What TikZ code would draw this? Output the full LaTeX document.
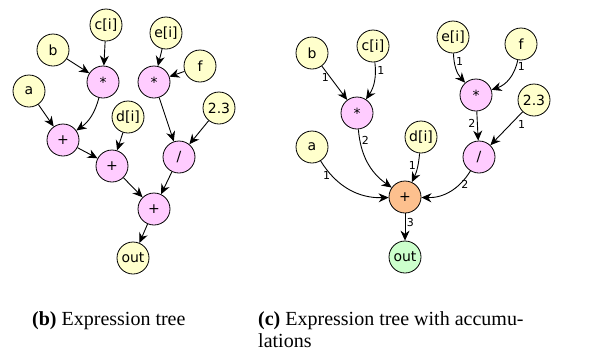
\documentclass[tikz,border=0pt]{standalone}
\usepackage{fontspec}
\setmainfont{Liberation Serif}
\newfontfamily\nodefont{DejaVu Sans}
\usetikzlibrary{arrows.meta}

\definecolor{varyellow}{HTML}{FFFFCC}
\definecolor{oppink}{HTML}{FFCCFF}
\definecolor{accorange}{HTML}{FDC08E}
\definecolor{outgreen}{HTML}{CCFFCC}

\tikzset{
  vnode/.style={circle, draw, line width=0.8pt, minimum size=32pt, inner sep=0pt,
    font=\nodefont\fontsize{14}{14}\selectfont},
  invar/.style={vnode, fill=varyellow},
  opnode/.style={vnode, fill=oppink},
  accnode/.style={vnode, fill=accorange},
  outvar/.style={vnode, fill=outgreen},
  edge/.style={-{Stealth[length=10pt,width=9pt]}, line width=0.9pt},
  wlabel/.style={font=\nodefont\fontsize{11}{11}\selectfont, inner sep=1.5pt}
}

\begin{document}
\begin{tikzpicture}[x=1pt, y=-1pt]
    \useasboundingbox (0,0) rectangle (592,354);

    % (b) expression tree
    \node[invar] (cb) at (106,25) {c[i]};
    \node[invar] (bb) at (53,50) {b};
    \node[invar] (eb) at (166,33) {e[i]};
    \node[invar] (fb) at (200,66) {f};
    \node[opnode] (mula) at (103,82) {*};
    \node[opnode] (mulb) at (154,82) {*};
    \node[invar] (ab) at (29,91) {a};
    \node[invar] (kb) at (219,108) {2.3};
    \node[invar] (db) at (128,117) {d[i]};
    \node[opnode] (adda) at (63,140) {+};
    \node[opnode] (divb) at (179,157) {/};
    \node[opnode] (addb) at (112,166) {+};
    \node[opnode] (addc) at (154,209) {+};
    \node[invar] (outb) at (133,258) {out};

    \draw[edge] (bb) -- (mula);
    \draw[edge] (cb) -- (mula);
    \draw[edge] (ab) -- (adda);
    \draw[edge] (mula) to[bend left=20] (adda);
    \draw[edge] (db) -- (addb);
    \draw[edge] (adda) -- (addb);
    \draw[edge] (eb) -- (mulb);
    \draw[edge] (fb) -- (mulb);
    \draw[edge] (mulb) -- (divb);
    \draw[edge] (kb) -- (divb);
    \draw[edge] (addb) -- (addc);
    \draw[edge] (divb) -- (addc);
    \draw[edge] (addc) -- (outb);

    % (c) expression tree with accumulations
    \node[invar] (bc) at (312,53) {b};
    \node[invar] (cc) at (373,46) {c[i]};
    \node[invar] (ec) at (453,37) {e[i]};
    \node[invar] (fc) at (521,44) {f};
    \node[opnode] (mulc) at (357,113) {*};
    \node[opnode] (muld) at (476,95) {*};
    \node[invar] (kc) at (534,100) {2.3};
    \node[invar] (ac) at (312,147) {a};
    \node[invar] (dc) at (421,137) {d[i]};
    \node[opnode] (divc) at (479,157) {/};
    \node[accnode] (acc) at (405,197) {+};
    \node[outvar] (outc) at (405,257) {out};

    \draw[edge] (bc) -- node[wlabel, pos=0.35, left] {1} (mulc);
    \draw[edge] (cc) to[bend left=20] node[wlabel, pos=0.2, right] {1} (mulc);
    \draw[edge] (mulc) to[bend right=25] node[wlabel, pos=0.15, right] {2} (acc);
    \draw[edge] (ac) to[bend right=30] node[wlabel, pos=0.12, below] {1} (acc);
    \draw[edge] (dc) to[bend left=10] node[wlabel, pos=0.4, left] {1} (acc);
    \draw[edge] (ec) to[bend right=20] node[wlabel, pos=0.25, right] {1} (muld);
    \draw[edge] (fc) to[bend left=30] node[wlabel, pos=0.15, right] {1} (muld);
    \draw[edge] (muld) -- node[wlabel, pos=0.4, left] {2} (divc);
    \draw[edge] (kc) -- node[wlabel, pos=0.2, below right] {1} (divc);
    \draw[edge] (divc) to[bend left=30] node[wlabel, pos=0.15, below] {2} (acc);
    \draw[edge] (acc) -- node[wlabel, pos=0.35, right] {3} (outc);

    % captions
    \node[anchor=base west, inner sep=0pt, font=\fontsize{20}{22}\selectfont] (capb) at (32,325)
        {\textbf{(b)} Expression tree};
    \node[anchor=base west, inner sep=0pt, align=left, font=\fontsize{20}{22}\selectfont] (capc) at (258,347)
        {\textbf{(c)} Expression tree with accumu-\\lations};
\end{tikzpicture}
\end{document}
